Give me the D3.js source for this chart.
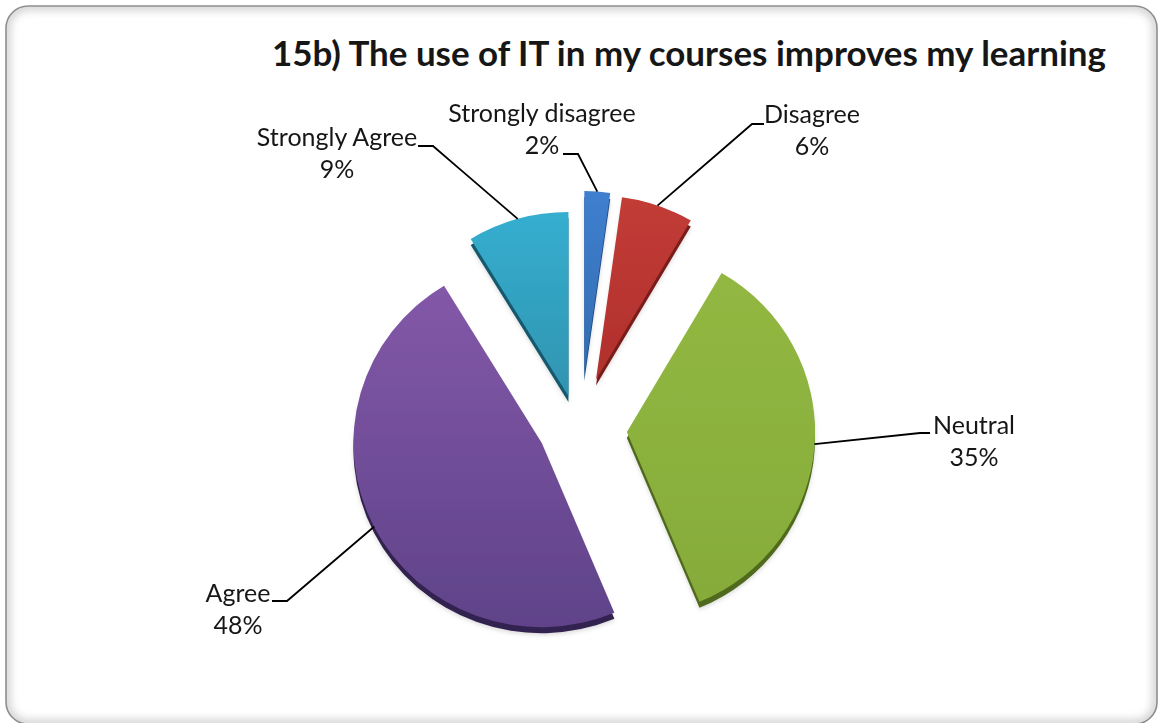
<!DOCTYPE html>
<html>
<head>
<meta charset="utf-8">
<script src="https://cdn.jsdelivr.net/npm/d3@7"></script>
<style>
  html, body { margin: 0; padding: 0; background: #fff; }
  svg { display: block; }
  text { font-family: Lato, "Noto Sans", sans-serif; fill: #161616; }
</style>
</head>
<body>
<div id="chart"></div>
<script>
// Chart values (shares, labels show them rounded)
const categories = ['Strongly disagree', 'Disagree', 'Neutral', 'Agree', 'Strongly Agree'];
const percents = [2.2, 6.2, 35.3, 47.6, 8.7];
const title = '15b) The use of IT in my courses improves my learning';

// Styling per slice
const topColors = ['#3f7fcf', '#c23c36', '#92b842', '#8358a8', '#36aed0'];
const bottomColors = ['#336cb0', '#b0302c', '#86ab3a', '#5f4389', '#2f94b0'];
const sideColors = ['#1f4a80', '#7a1f1c', '#4f6a1c', '#33204f', '#14586e'];

// Dimensions
const width = 1158;
const height = 723;
const cx = 581;
const cy = 423;
const rx = 188;
const ry = 184;
const depth = 6;
const explode = [48, 46, 46, 44, 28];
// small extra shifts, slices don't move exactly along their radius in the original
const nudgeX = [0, 0, 0, 0, -5];
const nudgeY = [0, 0, 6, 0, 0];

// Label anchors and leader elbows
const labelSpots = [
    { x: 542, y: 122, elbow: [563, 578, 154] },
    { x: 812, y: 123, elbow: [764, 752, 124] },
    { x: 974, y: 434, elbow: [930, 920, 433] },
    { x: 238, y: 602, elbow: [272, 287, 601] },
    { x: 337, y: 146, elbow: [418, 433, 146] }
];

const svg = d3.select("#chart").append("svg")
    .attr("width", width)
    .attr("height", height);

const defs = svg.append("defs");

defs.append("filter").attr("id", "soft")
    .append("feGaussianBlur").attr("stdDeviation", 0.6);
defs.append("filter").attr("id", "glow")
    .attr("x", "-5%").attr("y", "-5%").attr("width", "110%").attr("height", "110%")
    .append("feGaussianBlur").attr("stdDeviation", 5);
defs.append("filter").attr("id", "shade")
    .attr("x", "-20%").attr("y", "-20%").attr("width", "140%").attr("height", "140%")
    .append("feGaussianBlur").attr("stdDeviation", 2);

topColors.forEach((c, i) => {
    const g = defs.append("linearGradient")
        .attr("id", `fill${i}`)
        .attr("x1", 0).attr("y1", 0).attr("x2", 0).attr("y2", 1);
    g.append("stop").attr("offset", "0%").attr("stop-color", c);
    g.append("stop").attr("offset", "100%").attr("stop-color", bottomColors[i]);
});

// Frame with soft inner edge
const frameW = width - 7;
const frameH = height - 5;
defs.append("clipPath").attr("id", "frameClip")
    .append("rect").attr("x", 6).attr("y", 6)
    .attr("width", frameW).attr("height", frameH).attr("rx", 22);

svg.append("g").attr("clip-path", "url(#frameClip)")
    .append("rect")
    .attr("x", 6).attr("y", 6)
    .attr("width", frameW).attr("height", frameH).attr("rx", 22)
    .attr("fill", "none")
    .attr("stroke", "#bbb")
    .attr("stroke-width", 6)
    .attr("filter", "url(#glow)");

svg.append("rect")
    .attr("x", 6).attr("y", 6)
    .attr("width", frameW).attr("height", frameH).attr("rx", 22)
    .attr("fill", "none")
    .attr("stroke", "#8e8e8e")
    .attr("stroke-width", 1.6);

// Title
svg.append("text")
    .attr("x", 689)
    .attr("y", 66)
    .attr("text-anchor", "middle")
    .style("font-size", "35px")
    .style("font-weight", "bold")
    .attr("textLength", 834)
    .attr("lengthAdjust", "spacingAndGlyphs")
    .text(title);

// Pie, tilted by scaling the unit arc
const pie = d3.pie().sort(null).value(d => d);
const arcs = pie(percents);
const arc = d3.arc().innerRadius(0).outerRadius(1);

const mid = d => (d.startAngle + d.endAngle) / 2;
const offset = (d, i) => [
    explode[i] * Math.sin(mid(d)) + nudgeX[i],
    -explode[i] * Math.cos(mid(d)) + nudgeY[i]
];
const sliceTransform = (d, i, dy = 0) => {
    const [ox, oy] = offset(d, i);
    return `translate(${cx + ox},${cy + oy + dy}) scale(${rx},${ry})`;
};

// faint ground shadow
svg.append("g").attr("filter", "url(#shade)")
    .selectAll("path").data(arcs).join("path")
    .attr("d", arc)
    .attr("transform", (d, i) => sliceTransform(d, i, depth + 2))
    .attr("fill", "#999")
    .attr("opacity", 0.35);

const pieGroup = svg.append("g").attr("filter", "url(#soft)");

// extruded side, then the top face
pieGroup.selectAll("path.side").data(arcs).join("path")
    .attr("class", "side")
    .attr("d", arc)
    .attr("transform", (d, i) => sliceTransform(d, i, depth))
    .attr("fill", (d, i) => sideColors[i]);

pieGroup.selectAll("path.face").data(arcs).join("path")
    .attr("class", "face")
    .attr("d", arc)
    .attr("transform", (d, i) => sliceTransform(d, i))
    .attr("fill", (d, i) => `url(#fill${i})`);

// Leader lines run from the slice edge to the elbow next to the label
const leader = d3.line();
svg.append("g").selectAll("path").data(arcs).join("path")
    .attr("d", (d, i) => {
        const [ox, oy] = offset(d, i);
        const m = mid(d);
        const start = [cx + ox + rx * Math.sin(m), cy + oy - ry * Math.cos(m)];
        const e = labelSpots[i].elbow;
        return leader([start, [e[1], e[2]], [e[0], e[2]]]);
    })
    .attr("fill", "none")
    .attr("stroke", "#000")
    .attr("stroke-width", 1.8);

// Labels
const labels = svg.append("g").selectAll("g").data(arcs).join("g");
labels.append("text")
    .attr("x", (d, i) => labelSpots[i].x)
    .attr("y", (d, i) => labelSpots[i].y)
    .attr("text-anchor", "middle")
    .style("font-size", "25px")
    .text((d, i) => categories[i]);
labels.append("text")
    .attr("x", (d, i) => labelSpots[i].x)
    .attr("y", (d, i) => labelSpots[i].y + 32)
    .attr("text-anchor", "middle")
    .style("font-size", "25px")
    .text(d => `${Math.round(d.data)}%`);
</script>
</body>
</html>
